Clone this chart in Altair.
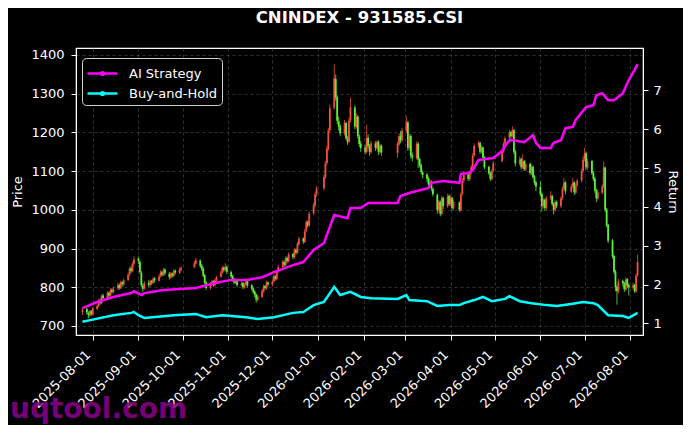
import pandas as pd
import altair as alt

# SSE trading calendar 2025-07-25 .. 2026-08-06 (weekdays minus exchange holidays)
HOLIDAYS = ["2025-10-01", "2025-10-02", "2025-10-03", "2025-10-06", "2025-10-07", "2025-10-08",
            "2026-01-01", "2026-01-02",
            "2026-02-16", "2026-02-17", "2026-02-18", "2026-02-19", "2026-02-20", "2026-02-23",
            "2026-04-06", "2026-05-01", "2026-05-04", "2026-05-05", "2026-06-19"]

# daily candles, one line per month (Jul-25 ... Aug-26)
OPEN = [736, 744, 734, 727, 739,
        730, 744, 751, 767, 759, 779, 771, 786, 778, 793, 787, 797, 806, 797, 813, 807, 819, 833, 849, 841, 861,
        874, 866, 838, 804, 797, 811, 805, 816, 811, 823, 817, 829, 839, 831, 846, 835, 825, 836, 829, 843, 837, 845,
        852, 861, 869, 856, 849, 831, 813, 797, 807, 816, 805, 817, 827, 837, 851, 844, 853,
        839, 829, 821, 811, 819, 805, 811, 799, 807, 816, 805, 797, 789, 781, 767, 775, 789, 803, 797, 813,
        807, 816, 829, 821, 841, 853, 865, 857, 876, 867, 886, 877, 897, 889, 911, 926, 917, 946, 969, 959, 991, 1011, 1041,
        1056, 1084, 1121, 1157, 1206, 1264, 1338, 1291, 1229, 1216, 1197, 1224, 1184, 1175, 1231, 1264, 1214, 1241, 1189, 1171,
        1161, 1149, 1186, 1164, 1149, 1171, 1159, 1176, 1149, 1166, 1147, 1169, 1191, 1179,
        1204, 1226, 1159, 1191, 1141, 1134, 1171, 1131, 1116, 1097, 1091, 1081, 1065, 1073, 1054, 1039, 1001, 1021, 989, 1031, 1009, 1036,
        1014, 1031, 1004, 1019, 999, 1041, 1076, 1091, 1079, 1096, 1111, 1141, 1166, 1173, 1149, 1161, 1136, 1111, 1096, 1079, 1101,
        1126, 1151, 1171, 1186, 1201, 1191, 1206, 1151, 1119, 1131, 1109, 1126, 1104, 1119, 1094, 1111, 1086, 1071,
        1059, 1041, 1009, 1026, 1004, 1031, 1036, 1016, 999, 1021, 1009, 1031, 1056, 1071, 1047, 1061, 1071, 1044, 1063, 1076, 1101,
        1131, 1146, 1109, 1126, 1096, 1081, 1051, 1029, 1044, 1059, 1109, 1001, 961, 921, 881, 841, 801, 789, 816, 811, 794, 821, 806,
        799, 806, 789, 831]
HIGH = [748, 747, 738, 742, 741,
        749, 756, 770, 772, 782, 783, 790, 789, 797, 798, 801, 812, 810, 817, 816, 823, 838, 853, 855, 866, 880,
        879, 870, 842, 810, 816, 818, 820, 819, 827, 826, 833, 844, 842, 850, 849, 839, 840, 838, 847, 846, 851, 855,
        868, 876, 872, 860, 852, 834, 816, 813, 820, 818, 823, 830, 843, 856, 854, 862, 856,
        843, 832, 824, 823, 821, 815, 814, 812, 820, 818, 808, 800, 792, 784, 781, 795, 807, 806, 817, 815,
        820, 833, 831, 845, 858, 871, 869, 880, 879, 890, 889, 901, 900, 917, 931, 929, 951, 974, 972, 996, 1018, 1047, 1062,
        1092, 1126, 1165, 1212, 1272, 1376, 1350, 1296, 1240, 1222, 1232, 1228, 1190, 1238, 1290, 1270, 1250, 1245, 1195, 1178,
        1168, 1220, 1195, 1170, 1178, 1177, 1180, 1179, 1170, 1169, 1176, 1198, 1203, 1212,
        1242, 1230, 1196, 1195, 1148, 1177, 1175, 1135, 1120, 1102, 1095, 1086, 1080, 1076, 1058, 1042, 1026, 1024, 1036, 1034, 1042, 1040,
        1038, 1034, 1026, 1022, 1045, 1082, 1100, 1094, 1100, 1116, 1146, 1172, 1178, 1176, 1166, 1164, 1139, 1114, 1099, 1106, 1126,
        1156, 1176, 1190, 1206, 1204, 1216, 1209, 1155, 1138, 1135, 1143, 1129, 1124, 1122, 1117, 1114, 1090, 1075,
        1074, 1045, 1030, 1029, 1036, 1048, 1039, 1019, 1025, 1024, 1035, 1060, 1082, 1074, 1066, 1082, 1074, 1068, 1080, 1106, 1138,
        1160, 1150, 1132, 1129, 1100, 1085, 1055, 1052, 1066, 1125, 1112, 1005, 964, 925, 885, 845, 806, 822, 820, 814, 826, 824, 810,
        812, 809, 836, 884]
LOW = [728, 730, 720, 724, 726,
       727, 740, 748, 755, 756, 768, 768, 772, 775, 783, 784, 794, 793, 795, 801, 804, 816, 829, 836, 839, 856,
       860, 835, 800, 788, 793, 800, 802, 806, 808, 812, 815, 826, 827, 829, 831, 820, 822, 825, 826, 833, 834, 841,
       849, 858, 850, 842, 826, 808, 793, 794, 804, 801, 802, 814, 824, 835, 840, 841, 834,
       823, 815, 807, 808, 801, 802, 795, 796, 804, 799, 791, 783, 774, 760, 763, 772, 786, 793, 794, 802,
       802, 812, 817, 818, 837, 849, 852, 854, 862, 864, 872, 874, 884, 886, 907, 912, 914, 942, 954, 956, 986, 1006, 1034,
       1050, 1080, 1115, 1152, 1200, 1258, 1282, 1222, 1205, 1190, 1192, 1180, 1168, 1172, 1226, 1208, 1210, 1185, 1162, 1150,
       1143, 1146, 1158, 1140, 1145, 1152, 1155, 1142, 1145, 1140, 1134, 1165, 1172, 1175,
       1198, 1152, 1154, 1132, 1125, 1130, 1108, 1110, 1092, 1082, 1072, 1060, 1060, 1048, 1034, 990, 995, 983, 985, 1002, 1005, 1010,
       1010, 998, 1000, 995, 996, 1037, 1070, 1074, 1075, 1090, 1106, 1136, 1160, 1144, 1145, 1130, 1105, 1090, 1074, 1076, 1097,
       1122, 1146, 1166, 1180, 1184, 1186, 1144, 1112, 1114, 1104, 1106, 1100, 1100, 1090, 1090, 1080, 1064, 1048,
       1034, 996, 1004, 998, 1000, 1026, 1010, 988, 995, 1004, 1005, 1026, 1050, 1040, 1043, 1056, 1038, 1040, 1058, 1070, 1096,
       1125, 1104, 1104, 1090, 1074, 1044, 1020, 1024, 1040, 1055, 994, 955, 914, 874, 834, 790, 755, 784, 802, 788, 790, 798, 779,
       794, 785, 786, 826]
CLOSE = [742, 735, 728, 738, 731,
         745, 752, 766, 760, 778, 772, 785, 779, 792, 788, 796, 805, 798, 812, 808, 818, 832, 848, 842, 860, 872,
         868, 840, 805, 796, 810, 806, 815, 812, 822, 818, 828, 838, 832, 845, 836, 826, 835, 830, 842, 838, 846, 850,
         862, 870, 855, 848, 830, 812, 798, 808, 815, 806, 818, 826, 838, 850, 845, 852, 840,
         828, 820, 812, 818, 806, 810, 800, 808, 815, 804, 796, 788, 780, 768, 776, 790, 802, 798, 812, 808,
         815, 828, 822, 840, 852, 866, 858, 875, 868, 885, 878, 896, 890, 912, 925, 918, 945, 968, 960, 990, 1012, 1040, 1055,
         1085, 1120, 1158, 1205, 1262, 1340, 1290, 1230, 1215, 1198, 1225, 1185, 1176, 1230, 1265, 1215, 1240, 1190, 1170, 1160,
         1150, 1185, 1165, 1150, 1172, 1160, 1175, 1150, 1165, 1148, 1170, 1190, 1180, 1205,
         1225, 1160, 1190, 1140, 1135, 1170, 1130, 1115, 1098, 1090, 1080, 1066, 1072, 1055, 1040, 1000, 1020, 990, 1030, 1010, 1035, 1015,
         1030, 1005, 1020, 1000, 1040, 1075, 1090, 1080, 1095, 1110, 1140, 1165, 1172, 1150, 1160, 1135, 1110, 1095, 1080, 1100, 1120,
         1150, 1170, 1185, 1200, 1190, 1205, 1150, 1120, 1130, 1110, 1125, 1105, 1118, 1095, 1110, 1085, 1070, 1060,
         1040, 1010, 1025, 1005, 1030, 1035, 1015, 1000, 1020, 1010, 1030, 1055, 1070, 1048, 1060, 1070, 1045, 1062, 1075, 1100, 1130,
         1145, 1110, 1125, 1095, 1080, 1050, 1030, 1045, 1060, 1110, 1000, 960, 920, 880, 840, 800, 790, 815, 810, 795, 820, 805, 800,
         805, 790, 830, 865]

# cumulative return curves (right axis)
AI_DATES = ["2025-07-25", "2025-08-04", "2025-08-15", "2025-08-27", "2025-08-29", "2025-09-03", "2025-09-05",
            "2025-09-18", "2025-10-10", "2025-10-23", "2025-11-03", "2025-11-14", "2025-11-24", "2025-12-02",
            "2025-12-15", "2025-12-22", "2025-12-29", "2026-01-05", "2026-01-12", "2026-01-21", "2026-01-23",
            "2026-01-30", "2026-02-04", "2026-02-24", "2026-02-26", "2026-03-04", "2026-03-17", "2026-03-19",
            "2026-03-27", "2026-04-07", "2026-04-08", "2026-04-13", "2026-04-16", "2026-04-20", "2026-04-30",
            "2026-05-06", "2026-05-08", "2026-05-11", "2026-05-14", "2026-05-21", "2026-05-27", "2026-05-29",
            "2026-06-01", "2026-06-08", "2026-06-10", "2026-06-15", "2026-06-18", "2026-06-23", "2026-06-25",
            "2026-07-02", "2026-07-07", "2026-07-09", "2026-07-13", "2026-07-17", "2026-07-21", "2026-07-27",
            "2026-07-31", "2026-08-04", "2026-08-06"]
AI_RETURN = [1.39, 1.55, 1.68, 1.78, 1.83, 1.73, 1.78,
             1.86, 1.91, 2.04, 2.12, 2.12, 2.19, 2.32,
             2.50, 2.58, 2.89, 3.07, 3.79, 3.71, 3.97,
             3.97, 4.10, 4.10, 4.28, 4.36, 4.49, 4.62,
             4.67, 4.62, 4.85, 4.87, 4.95, 5.21, 5.26,
             5.44, 5.57, 5.72, 5.72, 5.67, 5.85, 5.65,
             5.52, 5.52, 5.65, 5.72, 6.03, 6.06, 6.24,
             6.57, 6.62, 6.88, 6.93, 6.75, 6.75, 6.93,
             7.27, 7.53, 7.68]
BH_DATES = ["2025-07-25", "2025-07-31", "2025-08-15", "2025-08-27", "2025-08-29", "2025-09-01", "2025-09-05",
            "2025-09-25", "2025-10-10", "2025-10-17", "2025-10-28", "2025-11-13", "2025-11-21", "2025-12-02",
            "2025-12-15", "2025-12-22", "2025-12-29", "2026-01-05", "2026-01-12", "2026-01-16", "2026-01-23",
            "2026-01-30", "2026-02-06", "2026-02-24", "2026-03-02", "2026-03-04", "2026-03-16", "2026-03-23",
            "2026-03-31", "2026-04-07", "2026-04-10", "2026-04-17", "2026-04-23", "2026-04-29", "2026-05-08",
            "2026-05-11", "2026-05-18", "2026-05-26", "2026-06-05", "2026-06-12", "2026-06-22", "2026-06-30",
            "2026-07-07", "2026-07-10", "2026-07-17", "2026-07-27", "2026-07-31", "2026-08-06"]
BH_RETURN = [1.04, 1.09, 1.21, 1.27, 1.29, 1.21, 1.14,
             1.21, 1.24, 1.16, 1.21, 1.16, 1.11, 1.16,
             1.27, 1.29, 1.47, 1.55, 1.94, 1.73, 1.81,
             1.68, 1.65, 1.63, 1.73, 1.60, 1.57, 1.45,
             1.47, 1.47, 1.52, 1.60, 1.68, 1.57, 1.63,
             1.70, 1.57, 1.52, 1.47, 1.45, 1.50, 1.55,
             1.52, 1.47, 1.21, 1.19, 1.14, 1.27]

SERIES = ["AI Strategy", "Buy-and-Hold"]
SERIES_COLORS = ["#ff00ff", "#00ffff"]
PRICE_TICKS = [700, 800, 900, 1000, 1100, 1200, 1300, 1400]
RETURN_TICKS = [1, 2, 3, 4, 5, 6, 7]

UP, DOWN = "#f2503c", "#5cf03a"

days = [d for d in pd.bdate_range("2025-07-25", "2026-08-06")
        if d.strftime("%Y-%m-%d") not in HOLIDAYS]
candles = pd.DataFrame({"date": days[:len(CLOSE)], "open": OPEN, "high": HIGH,
                        "low": LOW, "close": CLOSE})
candles["col"] = [UP if c >= o else DOWN for o, c in zip(OPEN, CLOSE)]

returns = pd.concat([
    pd.DataFrame({"date": pd.to_datetime(AI_DATES), "value": AI_RETURN, "series": SERIES[0]}),
    pd.DataFrame({"date": pd.to_datetime(BH_DATES), "value": BH_RETURN, "series": SERIES[1]}),
])

month_ticks = [alt.DateTime(year=2025 + (7 + i) // 12, month=(7 + i) % 12 + 1, date=1) for i in range(13)]
x_scale = alt.Scale(domain=[alt.DateTime(year=2025, month=7, date=24),
                            alt.DateTime(year=2026, month=8, date=6, hours=7)])
x_axis = alt.Axis(values=month_ticks, format="%Y-%m-%d", labelAngle=-45, labelAlign="right",
                  labelBaseline="top", labelPadding=8, labelOffset=-9, title=None, grid=True,
                  labelOverlap=False, labelFlush=False)
price_scale = alt.Scale(domain=[676.7, 1418], nice=False, zero=False)
price_axis = alt.Axis(values=PRICE_TICKS, format="d", title="Price", grid=True,
                      labelPadding=7, titlePadding=6)

wick = alt.Chart(candles).mark_rule(strokeWidth=0.8).encode(
    x=alt.X("date:T", scale=x_scale, axis=x_axis),
    y=alt.Y("low:Q", scale=price_scale, axis=price_axis),
    y2="high:Q",
    color=alt.Color("col:N", scale=None),
)
body = alt.Chart(candles).mark_bar(size=1.8).encode(
    x=alt.X("date:T", scale=x_scale, axis=x_axis),
    y=alt.Y("open:Q", scale=price_scale, axis=price_axis),
    y2="close:Q",
    color=alt.Color("col:N", scale=None),
)

# legend symbol: 30px line with a small marker in the middle (row height stays 20px)
marker_line = "M-1.5,0H1.5M-0.13,0A0.13,0.13,0,1,0,0.13,0A0.13,0.13,0,1,0,-0.13,0"
lines = alt.Chart(returns).mark_line(strokeWidth=2.5).encode(
    x=alt.X("date:T", scale=x_scale, axis=x_axis),
    y=alt.Y("value:Q", scale=alt.Scale(domain=[0.70, 8.095], nice=False, zero=False),
            axis=alt.Axis(orient="right", values=RETURN_TICKS, title="Return", grid=False,
                          labelPadding=5, titlePadding=4)),
    color=alt.Color("series:N", scale=alt.Scale(domain=SERIES, range=SERIES_COLORS),
                    legend=alt.Legend(title=None, orient="none", legendX=6, legendY=10,
                                      symbolType=marker_line, symbolSize=400, symbolStrokeWidth=2.5,
                                      symbolOffset=5, labelFontSize=13, labelColor="white",
                                      labelOffset=15, fillColor="black", strokeColor="#d0d0d0",
                                      cornerRadius=4, padding=4, rowPadding=1)),
)

watermark = alt.Chart(pd.DataFrame({"t": ["uqtool.com"]})).mark_text(
    align="left", baseline="alphabetic", fontSize=28, fontWeight="bold",
    color="#8b008b", opacity=0.85,
).encode(x=alt.value(-66), y=alt.value(370), text="t:N")

chart = alt.layer(alt.layer(wick, body), lines, watermark).resolve_scale(
    y="independent"
).properties(
    width=567, height=287,
    title=alt.TitleParams("CNINDEX - 931585.CSI", color="white", fontSize=16.5, fontWeight="bold",
                          anchor="middle", frame="group", offset=22),
    padding={"left": 68, "top": 40, "right": 40, "bottom": 90},
    autosize=alt.AutoSizeParams(type="none"),
    background="black",
).configure(
    font="DejaVu Sans"
).configure_view(
    stroke="white", strokeWidth=1.2
).configure_axis(
    labelColor="white", titleColor="white", tickColor="white", domainColor="white",
    labelFontSize=13, titleFontSize=13, titleFontWeight="normal", tickSize=5,
    gridColor="#666666", gridDash=[3, 3], gridWidth=0.6, gridOpacity=0.8,
)

chart.save("out.html", embed_options={"renderer": "svg", "actions": False})
